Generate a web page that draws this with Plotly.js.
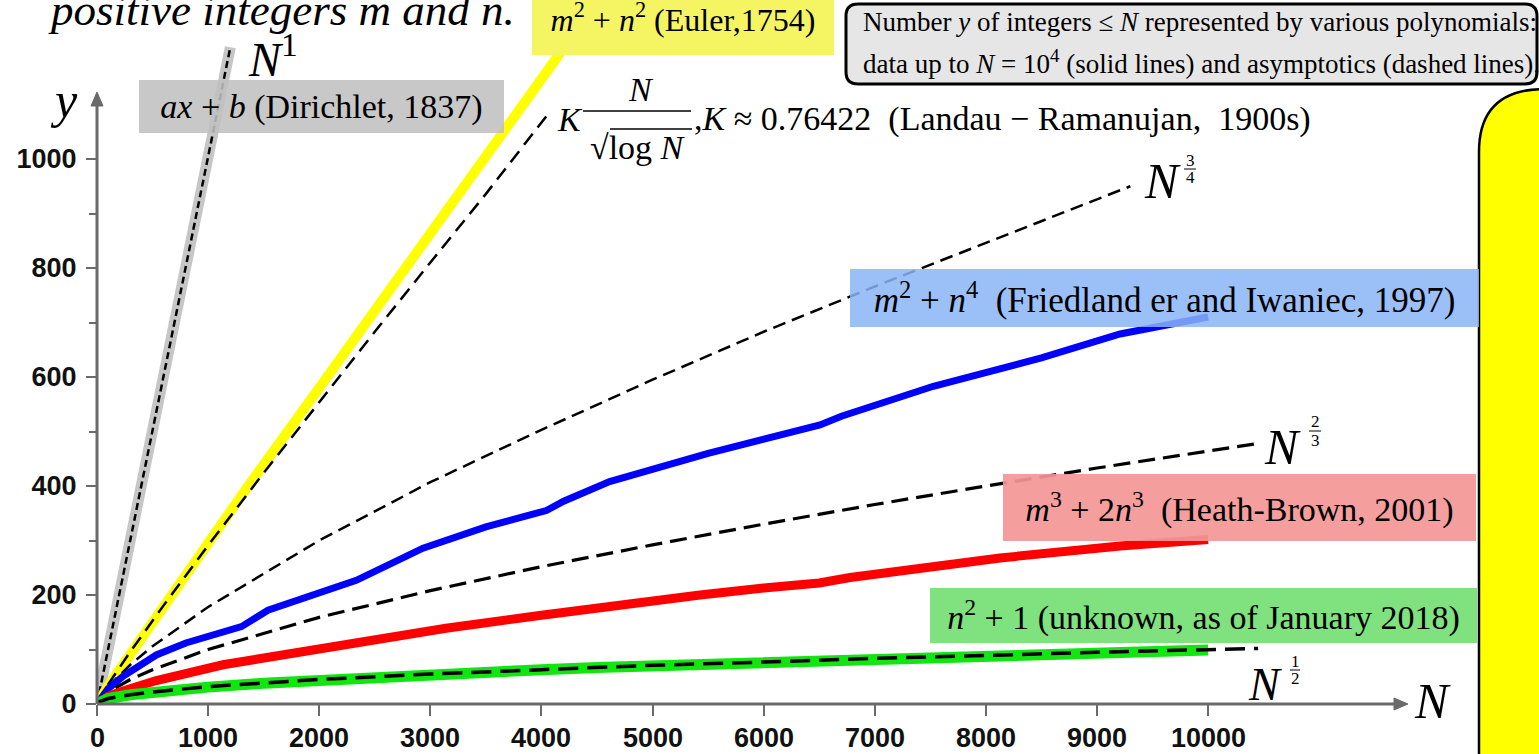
<!DOCTYPE html>
<html>
<head>
<meta charset="utf-8">
<script src="https://cdn.plot.ly/plotly-3.0.1.min.js"></script>
<style>html,body{margin:0;padding:0;background:#fff;}#chart{width:1539px;height:754px;}</style>
</head>
<body>
<div id="chart"></div>
<script>
// ---------------- data ----------------
const xTickVals = [0,1000,2000,3000,4000,5000,6000,7000,8000,9000,10000];
const xTickText = ["0","1000","2000","3000","4000","5000","6000","7000","8000","9000","10000"];
const yTickVals = [0,200,400,600,800,1000];
const yTickText = ["0","200","400","600","800","1000"];
const yMinorVals = [100,300,500,700,900];

// N^1 (linear, Dirichlet)
const linN = [0,600,1200];
const linY = [0,600,1205];
// m^2+n^2 (Euler)
const eulerN = [0,100,384,744,1000,1344,2000,2424,3000,3414,3800,4230];
const eulerY = [0,33,116,222,296,395,580,700,865,985,1095,1212];
// Landau-Ramanujan asymptotic
const landauN = [0,50,100,300,600,1000,1500,2000,2500,3000,3500,4050];
const landauY = [0,20,36,96,181,291,424,554,683,810,936,1080];
// N^(3/4)
const p34N = [0,50,100,300,500,1000,2000,3000,4000,5000,6000,7000,8000,9300];
const p34Y = [0,19,32,72,106,178,300,407,503,595,683,766,846,950];
// m^2+n^4 (Friedlander-Iwaniec)
const fiN = [0,100,234,534,800,1134,1300,1539,2000,2334,2934,3500,4044,4200,4614,5500,6507,6700,7527,8500,9208,10000];
const fiY = [0,28,51,90,112,132,142,172,205,227,286,325,355,372,408,460,512,528,583,635,679,710];
// N^(2/3)
const p23N = [0,50,100,300,500,1000,2000,3000,4000,5000,6000,7000,8000,9000,10450];
const p23Y = [0,14,22,45,63,100,159,208,252,292,330,366,400,433,478];
// m^3+2n^3 (Heath-Brown)
const hbN = [0,100,234,534,1134,1434,2000,2500,3141,4000,4614,5427,6000,6500,6778,7500,8128,9208,10000];
const hbY = [0,14,24,43,72,82,103,118,139,163,180,200,213,222,232,250,268,290,302];
// n^2+1
const sqN = [0,100,300,500,1000,1500,2000,3000,4000,4500,5000,6000,7000,8000,9000,10000];
const sqY = [0,10,17,22,31,38,44,54,63,67,70,77,83,89,94,99];
// N^(1/2)
const p12N = [0,20,100,300,500,1000,2000,3000,4000,5000,6000,7000,8000,9000,10450];
const p12Y = [0,4,10,17,22,32,45,55,63,71,77,84,89,95,102];

// ---------------- layout helpers ----------------
const L = 97, W = 1442, H = 704;           // plot area in px
const PXPERX = 0.11111, PXPERY = 0.545;
const px = v => (v - L) / W;
const py = v => (H - v) / H;
const SERIF = "Liberation Serif";

function line(x, y, color, width, dash) {
  return {x, y, type:'scatter', mode:'lines', hoverinfo:'skip', showlegend:false,
          line:{color, width, dash: dash || 'solid'}};
}
const traces = [
  line(linN, linY, '#c6c6c6', 11),
  line(linN, linY, '#000', 2.5, '7px,4px'),
  line(eulerN, eulerY, '#ffff00', 10),
  line(landauN, landauY, '#000', 2.5, '14px,8px'),
  line(p34N, p34Y, '#000', 2.5, '13px,7px'),
  line(fiN, fiY, '#0000ff', 7),
  line(p23N, p23Y, '#000', 3.2, '17px,8px'),
  line(hbN, hbY, '#ff0000', 9),
  line(sqN, sqY, '#11e611', 11),
  line(p12N, p12Y, '#000', 3.5, '20px,9px')
];

function txt(text, x, y, size, opts) {
  return Object.assign({xref:'paper', yref:'paper', x:px(x), y:py(y), xanchor:'center', yanchor:'middle',
    showarrow:false, text, font:{family:SERIF, size, color:'#000'}}, opts || {});
}
function boxLabel(text, x0, y0, x1, y1, bg, size) {
  return {xref:'paper', yref:'paper', x:px(x0), y:py(y0), xanchor:'left', yanchor:'top',
    width:x1-x0, height:y1-y0, bgcolor:bg, borderpad:0, borderwidth:0, showarrow:false,
    align:'center', valign:'middle', text, font:{family:SERIF, size, color:'#000'}};
}
function seg(x0, y0, x1, y1, color, width) {
  return {type:'line', xref:'paper', yref:'paper', x0:px(x0), y0:py(y0), x1:px(x1), y1:py(y1),
    line:{color, width}, layer:'above'};
}
function pathPx(pts) {
  return pts.map(c => c[0] + (c.length > 1 ? c.slice(1).map((v,i)=> (i%2===0? px(v): py(v)).toFixed(5)).join(',') : '')).join(' ');
}

const nb = '\u00a0';
const tickFont = {family:'Liberation Sans', size:27, color:'#111', weight:'bold'};
const annotations = [
  txt('<i>positive integers m and n.</i>', 46, 10, 45, {xanchor:'left'}),
  txt('<i>y</i>', 64, 100, 50),
  txt('<i>N</i>', 1432, 701, 50),
  txt('<i>N</i><sup>1</sup>', 273, 56, 48),
  boxLabel('<i>ax</i> + <i>b</i> (Dirichlet, 1837)', 139, 80, 504, 133, 'rgba(192,192,192,0.88)', 34),
  boxLabel('<i>m</i><sup>2</sup> + <i>n</i><sup>2</sup> (Euler,1754)', 532, -20, 834, 55, 'rgba(245,245,95,0.97)', 32),
  // info box text
  txt('Number <i>y</i> of integers ≤ <i>N</i> represented by various polynomials:', 861, 22, 27, {xanchor:'left'}),
  txt('data up to <i>N</i> = 10<sup>4</sup> (solid lines) and asymptotics (dashed lines).', 861, 62, 27, {xanchor:'left'}),
  // Landau-Ramanujan expression
  txt('<i>K</i>', 570, 119, 34),
  txt('<i>N</i>', 641, 89, 34),
  txt('√log' + nb + '<i>N</i>', 638, 147, 34),
  txt(',<i>K</i> ≈ 0.76422' + nb + nb + '(Landau − Ramanujan,' + nb + nb + '1900s)', 692, 119, 34, {xanchor:'left'}),
  // N^(3/4)
  txt('<i>N</i>', 1162, 181, 50),
  txt('3', 1190, 160, 17), txt('4', 1190, 178, 17),
  // N^(2/3)
  txt('<i>N</i>', 1282, 447, 50),
  txt('2', 1315, 422, 17), txt('3', 1315, 440, 17),
  // N^(1/2)
  txt('<i>N</i>', 1265, 684, 46),
  txt('1', 1295, 661, 17), txt('2', 1295, 678, 17),
  // coloured labels
  boxLabel('<i>m</i><sup>2</sup> + <i>n</i><sup>4</sup>' + nb + nb + '(Friedland er and Iwaniec, 1997)', 850, 269, 1479, 327, 'rgba(138,180,246,0.85)', 35),
  boxLabel('<i>m</i><sup>3</sup> + 2<i>n</i><sup>3</sup>' + nb + nb + '(Heath-Brown, 2001)', 1003, 474, 1476, 541, 'rgba(244,150,150,0.92)', 34),
  boxLabel('<i>n</i><sup>2</sup> + 1 (unknown, as of January 2018)', 930, 588, 1477, 643, 'rgba(120,224,120,0.95)', 34)
];
// x tick labels, placed on the x scale
xTickVals.forEach((v, i) => {
  annotations.push({xref:'x', yref:'paper', x:v, y:py(738), xanchor:'center', yanchor:'middle',
    showarrow:false, text:xTickText[i], font:tickFont});
});

const AX = '#6a6a6a';
const shapes = [
  {type:'path', xref:'paper', yref:'paper', layer:'above', fillcolor:'#e6e6e6', line:{color:'#000', width:3},
   path: pathPx([['M',858,4],['L',1525,4],['Q',1537,4,1537,16],['L',1537,72],['Q',1537,84,1525,84],['L',858,84],['Q',846,84,846,72],['L',846,16],['Q',846,4,858,4],['Z']])},
  {type:'path', xref:'paper', yref:'paper', layer:'above', fillcolor:'#ffff00', line:{color:'#000', width:2.5},
   path: pathPx([['M',1479,770],['L',1479,152],['Q',1479,89,1545,89],['L',1560,89],['L',1560,770],['Z']])},
  seg(97, 704, 1397, 704, AX, 3),
  {type:'path', xref:'paper', yref:'paper', layer:'above', fillcolor:AX, line:{color:AX, width:1},
   path: pathPx([['M',1408,704],['L',1394,698],['L',1394,710],['Z']])},
  seg(97, 704, 97, 104, AX, 3),
  {type:'path', xref:'paper', yref:'paper', layer:'above', fillcolor:AX, line:{color:AX, width:1},
   path: pathPx([['M',97,92],['L',91,106],['L',103,106],['Z']])},
  seg(583, 111, 691, 111, '#000', 1.5),
  seg(610, 129, 692, 129, '#000', 1.3),
  seg(1184, 169, 1196, 169, '#000', 1),
  seg(1309, 431, 1321, 431, '#000', 1),
  seg(1290, 670, 1300, 670, '#000', 1)
];

const layout = {
  width:1539, height:754,
  margin:{l:L, r:1539-L-W, t:0, b:754-H, pad:0},
  paper_bgcolor:'#fff', plot_bgcolor:'rgba(0,0,0,0)',
  showlegend:false,
  xaxis:{range:[0, W/PXPERX], showgrid:false, zeroline:false, showline:false,
         tickmode:'array', tickvals:xTickVals, ticktext:xTickText, showticklabels:false,
         ticks:'outside', ticklen:11, tickwidth:2, tickcolor:AX},
  yaxis:{range:[0, H/PXPERY], showgrid:false, zeroline:false, showline:false,
         tickmode:'array', tickvals:yTickVals, ticktext:yTickText,
         ticks:'outside', ticklen:10, tickwidth:2, tickcolor:AX, tickfont:tickFont, ticklabelstandoff:4,
         minor:{tickmode:'array', tickvals:yMinorVals, ticks:'outside', ticklen:7, tickwidth:2, tickcolor:AX}},
  annotations, shapes
};
Plotly.newPlot('chart', traces, layout, {staticPlot:true, displayModeBar:false});
</script>
</body>
</html>
